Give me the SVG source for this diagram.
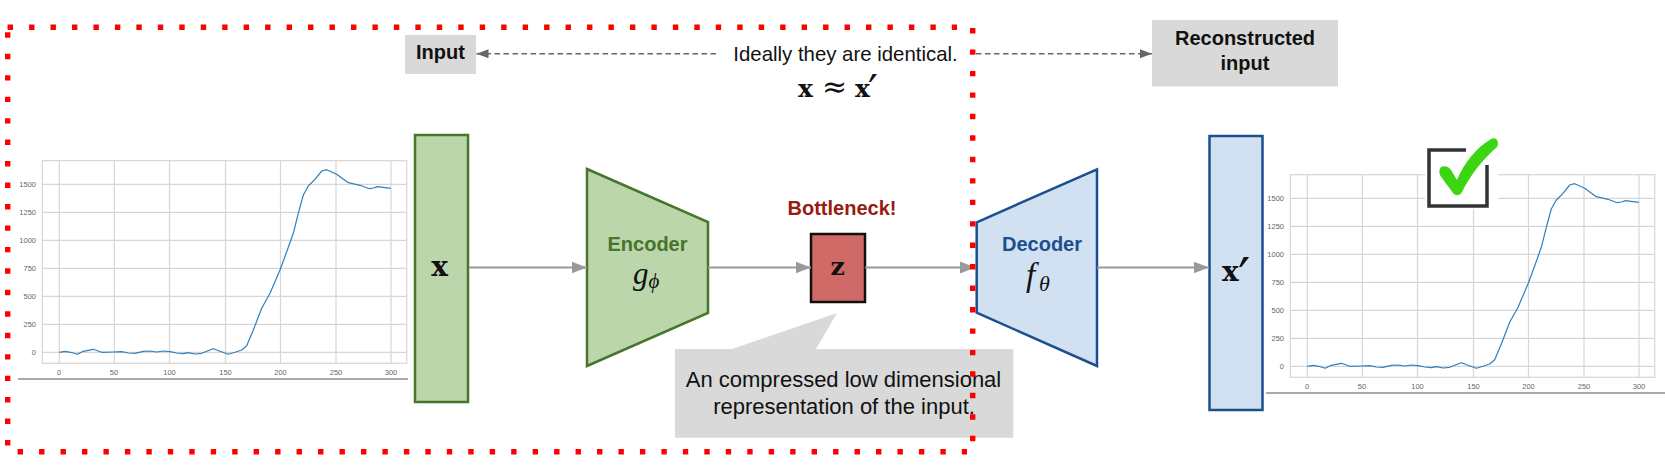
<svg xmlns="http://www.w3.org/2000/svg" xmlns:xlink="http://www.w3.org/1999/xlink" width="1665" height="473" viewBox="0 0 1665 473">
<style>
text{font-family:"Liberation Sans",Arial,sans-serif}
.mb{font-family:"DejaVu Serif",serif;font-weight:700;fill:#111}
.mr{font-family:"DejaVu Serif",serif;font-weight:400;fill:#111}
.mi{font-family:"Liberation Serif","Times New Roman",serif;font-style:italic;fill:#111}
.grid{stroke:#d6d6d6;stroke-width:1.2;fill:none}
.tick{font-size:7.5px;fill:#666;text-anchor:middle}
.curve{fill:none;stroke:#2f7fbd;stroke-width:1.2;stroke-linejoin:round}
.axis{stroke:#555;stroke-width:1.2}
.conn{stroke:#999;stroke-width:2;fill:none;marker-end:url(#ga)}
.dash{stroke:#666;stroke-width:1.4;stroke-dasharray:5.5 3.5;fill:none;marker-end:url(#da)}
.label{fill:#d9d9d9}
.b{font-weight:700;font-size:20px;fill:#111;text-anchor:middle}
.t{font-size:22px;fill:#111;text-anchor:middle}
.red{stroke:#f00;stroke-width:5.4;stroke-dasharray:5.4 16.06;fill:none}
</style>
<defs>
<marker id="ga" markerUnits="userSpaceOnUse" markerWidth="16" markerHeight="14" refX="15.500" refY="6.500" orient="auto"><path d="M0 0.500L15.500 6.500L0 12.500Z" fill="#999"/></marker>
<marker id="da" markerUnits="userSpaceOnUse" markerWidth="13" markerHeight="10" refX="12" refY="4.500" orient="auto"><path d="M0 0L12 4.500L0 9Z" fill="#666"/></marker>
<g id="chart">
<rect class="grid" x="42.3" y="160.7" width="364.4" height="202.6"/>
<path class="grid" d="M59.3 160.7V363.3M114.3 160.7V363.3M169.5 160.7V363.3M225.5 160.7V363.3M280.5 160.7V363.3M336 160.7V363.3M391 160.7V363.3M42.3 352.3H406.7M42.3 324.3H406.7M42.3 296.3H406.7M42.3 268.3H406.7M42.3 240.3H406.7M42.3 212.3H406.7M42.3 184.3H406.7"/>
<g class="tick">
<text x="59" y="375">0</text><text x="114" y="375">50</text><text x="169.5" y="375">100</text><text x="225.5" y="375">150</text><text x="280.5" y="375">200</text><text x="336" y="375">250</text><text x="391" y="375">300</text>
</g>
<g class="tick" style="text-anchor:end">
<text x="36" y="355">0</text><text x="36" y="327">250</text><text x="36" y="299">500</text><text x="36" y="271">750</text><text x="36" y="243">1000</text><text x="36" y="215">1250</text><text x="36" y="187">1500</text>
</g>
<polyline class="curve" points="59.3,352.3 65,351.3 70.7,352.3 77.3,354.3 83.3,351.3 93.3,349.3 101.7,352.3 113.3,352 121.7,351.7 128.3,353 135,353.3 143.3,351.3 150,351 156.7,352 163.3,351 170,351.7 176.7,353 183.3,353.7 188.3,352.7 195,354 201.7,353.3 206.7,351.3 213.3,348.7 220,351.3 228.3,354.3 235,352.3 241.7,350 246.7,345.7 253.3,330 261.7,308.3 270,293.3 280,270 286.7,251.7 293.3,233.3 298.3,213.3 303.3,195 308.3,186 315,179.3 321.7,171 326.7,169.7 336.7,174.3 348.3,182.7 360,185.3 369.3,188.7 373.3,188 377.7,186.7 383.3,187.3 390.7,188.3"/>
</g>
</defs>

<g id="chart-input"><use xlink:href="#chart" href="#chart"/><line class="axis" x1="18" y1="379" x2="408" y2="379"/></g>
<g id="chart-output"><use xlink:href="#chart" href="#chart" x="1248" y="14"/><line class="axis" x1="1266" y1="393" x2="1665" y2="393"/></g>

<g id="node-input-label"><rect class="label" x="405" y="35" width="71" height="39"/><text class="b" x="440.500" y="59">Input</text></g>
<g id="node-reconstructed-label"><rect class="label" x="1152" y="20" width="186" height="66.500"/><text class="b" x="1245" y="45">Reconstructed</text><text class="b" x="1245" y="70">input</text></g>
<g id="node-note"><text x="845.500" y="61" font-size="20.400" fill="#111" text-anchor="middle">Ideally they are identical.</text><text class="mb" y="97" font-size="25"><tspan x="798">x</tspan><tspan class="mr" x="822" font-size="30">≈</tspan><tspan x="855">x</tspan><tspan class="mr" x="868" y="107" font-size="44">′</tspan></text></g>

<g id="node-x"><rect x="415" y="135" width="53" height="267" fill="#bcd6ac" stroke="#47752a" stroke-width="2.500"/><text class="mb" x="439.500" y="275.700" font-size="28" text-anchor="middle">x</text></g>
<g id="node-encoder"><path d="M587 169L708 222V313L587 366Z" fill="#bcd6ac" stroke="#47752a" stroke-width="2.500"/><text x="647.500" y="250.500" font-size="20" font-weight="700" fill="#47752a" text-anchor="middle">Encoder</text><text class="mi" x="633" y="283.500" font-size="31">g<tspan font-size="21" dy="4">ϕ</tspan></text></g>
<g id="node-z"><rect x="811" y="234" width="54" height="68" fill="#cf6a66" stroke="#111" stroke-width="2.500"/><text class="mb" x="837.500" y="275" font-size="25" text-anchor="middle">z</text></g>
<g id="node-bottleneck"><text x="842" y="215" font-size="20" font-weight="700" fill="#981c10" text-anchor="middle">Bottleneck!</text></g>
<g id="node-decoder"><path d="M976.700 222.300L1097 169.300V366L976.700 312.700Z" fill="#d2e1f1" stroke="#1c4f8f" stroke-width="2.500"/><text x="1042" y="250.700" font-size="20" font-weight="700" fill="#1c4f8f" text-anchor="middle">Decoder</text><text class="mi" x="1026" y="286" font-size="33">f<tspan font-size="22" dy="5" x="1039">θ</tspan></text></g>
<g id="node-xprime"><rect x="1209.500" y="136" width="53" height="274" fill="#d2e1f1" stroke="#1c4f8f" stroke-width="2.500"/><text class="mb" y="281" font-size="28"><tspan x="1222">x</tspan><tspan class="mr" x="1238" y="297" font-size="55">′</tspan></text></g>
<g id="node-callout"><path d="M675 349H732L837 313L816 349H1013.300V437.700H675Z" fill="#d9d9d9"/><text class="t" x="843.500" y="387.300">An compressed low dimensional</text><text class="t" x="844" y="414">representation of the input.</text></g>

<g id="node-check"><rect x="1425" y="146" width="73" height="63.500" fill="#fff"/><path d="M1466 150H1429V206H1487V165" fill="none" stroke="#333" stroke-width="3.500"/><path d="M1441 167C1445 165 1449 167 1451 170L1457 180C1464 163 1476 148 1491 139C1498 136 1499 144 1497 147C1481 161 1470 176 1462 192C1460 196 1455 196 1453 193C1449 187 1443 180 1440 175C1439 172 1439 169 1441 167Z" fill="#3bd611"/></g>

<g id="connectors">
<line class="conn" x1="469" y1="267.500" x2="587" y2="267.500"/>
<line class="conn" x1="708" y1="267.500" x2="811" y2="267.500"/>
<line class="conn" x1="865" y1="267.500" x2="975.500" y2="267.500"/>
<line class="conn" x1="1097" y1="267.500" x2="1209" y2="267.500"/>
<line class="dash" x1="716" y1="53.700" x2="476.500" y2="53.700"/>
<line class="dash" x1="976" y1="53.700" x2="1152" y2="53.700"/>
</g>

<g id="red-box">
<path class="red" d="M7.600 27.300H957"/>
<path class="red" d="M7.700 32.300V446"/>
<path class="red" d="M972.700 28V442"/>
<path class="red" d="M17.600 451.700H967"/>
</g>
</svg>
